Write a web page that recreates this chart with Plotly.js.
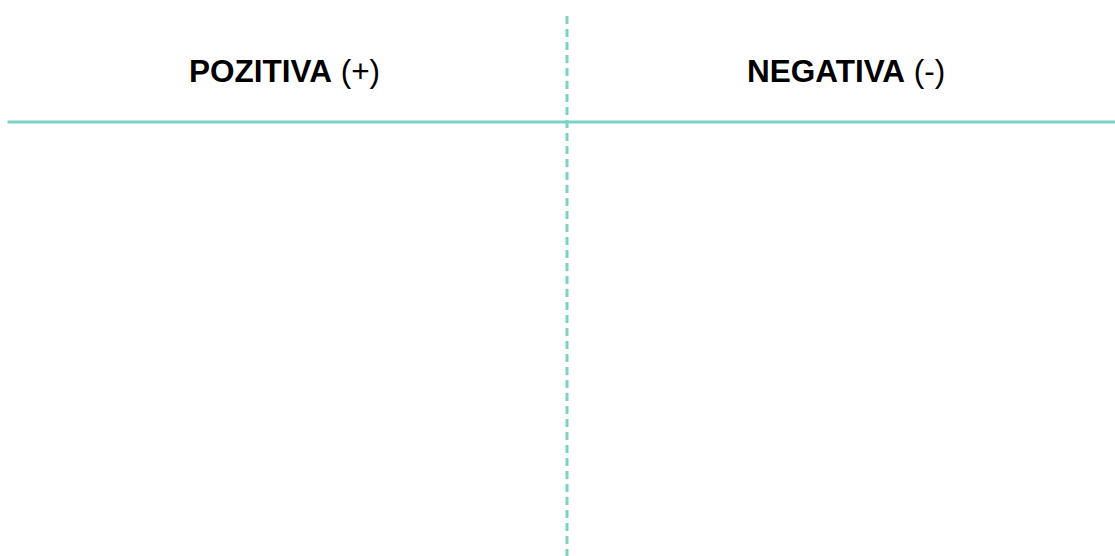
<!DOCTYPE html>
<html>
<head>
<meta charset="utf-8">
<script src="https://cdn.plot.ly/plotly-3.0.1.min.js"></script>
<style>html,body{margin:0;padding:0;background:#fff;}#chart{width:1115px;height:556px;}</style>
</head>
<body>
<div id="chart"></div>
<script>
const headers = ['POZITIVA', 'NEGATIVA'];
const signs = ['(+)', '(-)'];
const columnCenters = [0.2556, 0.7587];

const W = 1115, H = 556;
const lineColor = 'rgb(125,210,200)';

const annotations = headers.map((h, i) => ({
  xref: 'paper', yref: 'paper',
  x: columnCenters[i], y: 1 - 71 / H,
  xanchor: 'center', yanchor: 'middle',
  showarrow: false,
  text: '<b>' + h + '</b> ' + signs[i],
  font: {family: 'Liberation Sans, Arial, sans-serif', size: 31.5, color: '#000'}
}));

const layout = {
  width: W, height: H,
  margin: {l: 0, r: 0, t: 0, b: 0},
  paper_bgcolor: '#fff', plot_bgcolor: '#fff',
  xaxis: {visible: false, range: [0, 1], fixedrange: true},
  yaxis: {visible: false, range: [0, 1], fixedrange: true},
  showlegend: false,
  annotations: annotations,
  shapes: [
    {type: 'line', xref: 'paper', yref: 'paper',
     x0: 7.5 / W, x1: 1, y0: 1 - 122 / H, y1: 1 - 122 / H,
     line: {color: lineColor, width: 3}},
    {type: 'line', xref: 'paper', yref: 'paper',
     x0: 567 / W, x1: 567 / W, y0: 1 - 16 / H, y1: 0,
     line: {color: lineColor, width: 3, dash: '8px,5px'}}
  ]
};

Plotly.newPlot('chart', [], layout, {displayModeBar: false, staticPlot: true});
</script>
</body>
</html>
